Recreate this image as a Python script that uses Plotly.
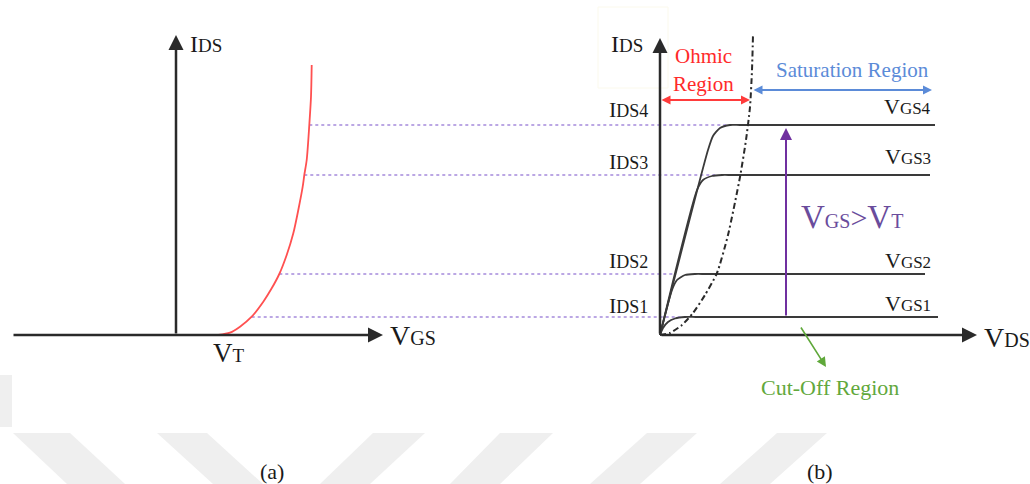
import plotly.graph_objects as go

# ---------------- data ----------------
# panel (a): transfer characteristic  IDS vs VGS
transfer_vgs = [1.0575, 1.35, 1.6, 1.8925, 2.1825, 2.3925, 2.5825, 2.7675, 2.9325, 3.0575,
                3.1675, 3.2075, 3.2675, 3.3325, 3.375, 3.3925]
transfer_ids = [0, 0.0575, 0.2075, 0.4575, 0.8325, 1.1675, 1.525, 2.0, 2.5425, 3.125,
                3.7075, 4.0, 4.375, 5.25, 5.9575, 6.75]
vt_value = 1.0575

# drain current levels IDS1..IDS4 and where they hit the transfer curve
ids_levels = [0.45, 1.525, 4.0, 5.25]
ids_level_vgs = [1.8925, 2.5825, 3.2075, 3.3325]
ids_guide_end_vds = [0.575, 0.375, 1.45, 1.75]
ids_labels = ["IDS1", "IDS2", "IDS3", "IDS4"]

# panel (b): output characteristics  IDS vs VDS
vgs1_vds = [0, 0.075, 0.2, 0.375, 0.625, 0.9, 6.95]
vgs1_ids = [0, 0.175, 0.325, 0.4125, 0.45, 0.45, 0.45]
vgs2_vds = [0, 0.3, 0.425, 0.625, 0.875, 1.15, 6.625]
vgs2_ids = [0, 1.125, 1.375, 1.5, 1.525, 1.525, 1.525]
vgs3_vds = [0, 0.925, 1.075, 1.3, 1.55, 1.8, 6.75]
vgs3_ids = [0, 3.625, 3.875, 3.975, 4.0, 4.0, 4.0]
vgs4_vds = [0, 1.2, 1.325, 1.5, 1.75, 2.0, 6.875]
vgs4_ids = [0, 4.625, 4.975, 5.175, 5.25, 5.25, 5.25]
vgs_labels = ["VGS1", "VGS2", "VGS3", "VGS4"]

# ohmic / saturation boundary (dash-dot)
boundary_vds = [0, 0.25, 0.55, 0.825, 1.125, 1.425, 1.7, 2.0, 2.15, 2.25, 2.3, 2.325]
boundary_ids = [0, 0.05, 0.25, 0.55, 1.0, 1.55, 2.5, 3.95, 4.875, 5.7, 6.625, 7.5]

# ---------------- geometry ----------------
W, H = 1030, 484
PX = 40.0            # pixels per unit
A_X0, B_X0, Y0 = 176, 660, 335
OFFSET_B_IN_A = (B_X0 - A_X0) / PX

def vds_to_vgs_axis(v):
    return v + OFFSET_B_IN_A

FONT = "Liberation Serif, Times New Roman, DejaVu Serif, serif"
DARK = "#2a2a2a"

fig = go.Figure()

# watermark stripes (decoration)
stripes = [
    [(13, 433), (70, 433), (125, 484), (67, 484)],
    [(157, 433), (207, 433), (263, 484), (213, 484)],
    [(373, 433), (425, 433), (370, 484), (320, 484)],
    [(500, 433), (553, 433), (500, 484), (450, 484)],
    [(647, 433), (697, 433), (640, 484), (590, 484)],
    [(777, 433), (827, 433), (770, 484), (720, 484)],
    [(0, 375), (12, 375), (12, 427), (0, 427)],
]
shapes = []
for s in stripes:
    path = "M " + " L ".join(f"{x / W:.5f},{1 - y / H:.5f}" for x, y in s) + " Z"
    shapes.append(dict(type="path", path=path, xref="paper", yref="paper",
                       fillcolor="#efefef", line=dict(width=0), layer="below"))
# faint frame around IDS label of panel (b)
shapes.append(dict(type="rect", xref="paper", yref="paper",
                   x0=598 / W, x1=668 / W, y0=1 - 88 / H, y1=1 - 7 / H,
                   line=dict(color="#fbf9ec", width=1), layer="below"))

# guide lines (purple dotted) from transfer curve to output curves
for lvl, vg, ve in zip(ids_levels, ids_level_vgs, ids_guide_end_vds):
    fig.add_trace(go.Scatter(x=[vg, vds_to_vgs_axis(ve)], y=[lvl, lvl], mode="lines",
                             line=dict(color="#a58bdb", width=1.6, dash="dot"),
                             hoverinfo="skip", showlegend=False, xaxis="x", yaxis="y"))

# transfer curve
fig.add_trace(go.Scatter(x=transfer_vgs, y=transfer_ids, mode="lines",
                         line=dict(color="#ff5050", width=1.8, shape="spline", smoothing=0.8),
                         hoverinfo="skip", showlegend=False, xaxis="x", yaxis="y"))

# output curves
for vx, vy in [(vgs1_vds, vgs1_ids), (vgs2_vds, vgs2_ids), (vgs3_vds, vgs3_ids), (vgs4_vds, vgs4_ids)]:
    fig.add_trace(go.Scatter(x=vx, y=vy, mode="lines",
                             line=dict(color="#3a3a3a", width=1.8, shape="spline", smoothing=0.6),
                             hoverinfo="skip", showlegend=False, xaxis="x2", yaxis="y"))

fig.add_trace(go.Scatter(x=boundary_vds, y=boundary_ids, mode="lines",
                         line=dict(color="#2a2a2a", width=2, dash="6px,3px,2px,3px",
                                   shape="spline", smoothing=0.6),
                         hoverinfo="skip", showlegend=False, xaxis="x2", yaxis="y"))

ann = []

def arrow(xh, yh, xt, yt, xr, color, width=2.5, both=False, head=2, size=1.0):
    d = dict(x=xh, y=yh, ax=xt, ay=yt, xref=xr, yref="y", axref=xr, ayref="y",
             text="", showarrow=True, arrowhead=head, arrowsize=size, arrowwidth=width,
             arrowcolor=color, standoff=0, startstandoff=0)
    if both:
        d.update(arrowside="end+start", startarrowhead=head, startarrowsize=size)
    ann.append(d)

# axes (a)
arrow(5.175, 0, -4.1, 0, "x", DARK, size=1.2)
arrow(0, 7.5, 0, 0, "x", DARK, size=1.2)
# axes (b)
arrow(7.925, 0, 0, 0, "x2", DARK, size=1.2)
arrow(0, 7.425, 0, 0, "x2", DARK, size=1.2)
# region arrows
arrow(2.25, 5.875, 0, 5.875, "x2", "#ff3b3b", width=1.8, both=True)
arrow(6.8, 6.125, 2.3, 6.125, "x2", "#5b8bd8", width=1.8, both=True)
arrow(3.15, 5.175, 3.15, 0.45, "x2", "#7030a0", width=2, size=1.2)
arrow(4.15, -0.8, 3.5, 0.225, "x2", "#5fa83a", width=1.6, size=1.2)

def text(x, y, s, xr, size=20, color="#1a1a1a", xanchor="center", yanchor="middle"):
    ann.append(dict(x=x, y=y, xref=xr, yref="y", text=s, showarrow=False,
                    xanchor=xanchor, yanchor=yanchor,
                    font=dict(family=FONT, size=size, color=color)))

def sub(main, small, ms, ss):
    return f'<span style="font-size:{ms}px">{main}</span><span style="font-size:{ss}px">{small}</span>'

# panel (a) labels
text(0.3, 7.275, sub("I", "DS", 24, 19), "x", xanchor="left")
text(vt_value + 0.275, -0.45, sub("V", "T", 27, 19), "x")
text(5.3, 0.0, sub("V", "GS", 28, 20), "x", xanchor="left")
text(2.4, -3.4, "(a)", "x", size=22)

# panel (b) labels
text(-0.375, 7.275, sub("I", "DS", 24, 19), "x2", xanchor="right")
for lvl, lab, yy in zip(ids_levels, ids_labels, [0.75, 1.875, 4.35, 5.65]):
    text(-0.25, yy, sub(lab[0], lab[1:], 22, 18), "x2", xanchor="right")
for lab, yy in zip(vgs_labels, [0.8, 1.875, 4.475, 5.725]):
    text(6.825, yy, sub(lab[0], lab[1:], 22, 17), "x2", xanchor="right")
text(8.05, -0.05, sub("V", "DS", 28, 20), "x2", xanchor="left")
text(4.8, 2.95, sub("V", "GS", 33, 20) + '<span style="font-size:30px">&gt;</span>' + sub("V", "T", 33, 20),
     "x2", color="#6a4c9c")
text(1.075, 6.975, "Ohmic", "x2", size=21, color="#ff2a2a")
text(1.075, 6.275, "Region", "x2", size=21, color="#ff2a2a")
text(4.8, 6.625, "Saturation Region", "x2", size=21, color="#5b8bd8")
text(4.25, -1.3, "Cut-Off Region", "x2", size=22, color="#62a83c")
text(4.0, -3.4, "(b)", "x2", size=22)

ax_common = dict(visible=False, showgrid=False, zeroline=False, fixedrange=True)
fig.update_layout(
    width=W, height=H, margin=dict(l=0, r=0, t=0, b=0),
    paper_bgcolor="white", plot_bgcolor="rgba(0,0,0,0)",
    xaxis=dict(range=[-A_X0 / PX, (W - A_X0) / PX], domain=[0, 1], **ax_common),
    xaxis2=dict(range=[-B_X0 / PX, (W - B_X0) / PX], domain=[0, 1], overlaying="x", **ax_common),
    yaxis=dict(range=[(Y0 - H) / PX, Y0 / PX], domain=[0, 1], **ax_common),
    shapes=shapes, annotations=ann, showlegend=False,
)

fig.write_html("out.html", config={"displayModeBar": False},
               post_script="document.body.style.margin='0';document.body.style.overflow='hidden';")
